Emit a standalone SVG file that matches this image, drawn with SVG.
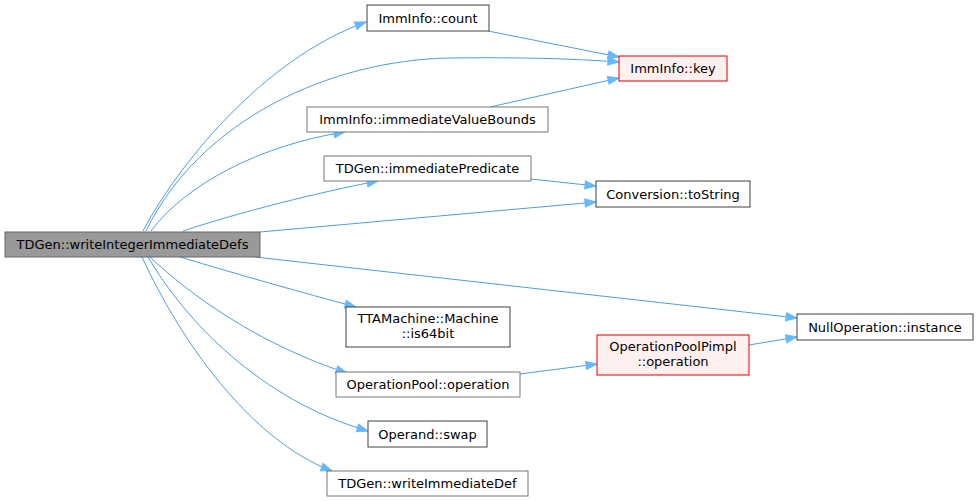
<svg xmlns="http://www.w3.org/2000/svg" width="979" height="501" viewBox="0 0 979 501">
<style>
  .n rect{fill:#ffffff;stroke:#404040;stroke-width:1}
  .n.g rect{stroke:#777777}
  .n.r rect{fill:#fff0f0;stroke:#dd0000}
  .n.m rect{fill:#999999;stroke:#666666}
  text{font-family:"DejaVu Sans",sans-serif;font-size:13px;fill:#000;text-anchor:middle}
  .e path{fill:none;stroke:#4f9de2;stroke-width:1;marker-end:url(#ah)}
</style>
<defs>
  <marker id="ah" markerUnits="userSpaceOnUse" markerWidth="14" markerHeight="10" viewBox="-1 -5 13 10" refX="11" refY="0" orient="auto">
    <path d="M0,-4 L11,0 L0,4 z" fill="#63b8ff" stroke="#63b8ff" stroke-width="1"/>
  </marker>
</defs>
<rect width="979" height="501" fill="#ffffff"/>
<g id="edges" class="e">
  <path d="M143,231 C175,170 260,60 366,22"/>
  <path d="M146,231 C200,120 330,60 450,58 C520,57 580,59 619,62"/>
  <path d="M151,231 C185,185 260,145 345,132"/>
  <path d="M183,231 C240,212 320,192 378,181"/>
  <path d="M260,232 L596,202"/>
  <path d="M255,257 L797,318"/>
  <path d="M180,257 C240,275 300,292 356,307"/>
  <path d="M150,257 C190,295 260,345 347,373"/>
  <path d="M148,257 C185,320 260,400 368,431"/>
  <path d="M142,257 C180,340 250,440 332,471"/>
  <path d="M488,31 L619,57"/>
  <path d="M490,107 L619,78"/>
  <path d="M531,179 L596,186"/>
  <path d="M520,374 L597,364"/>
  <path d="M749,345 L797,337"/>
</g>
<g id="n_main" class="n m"><rect x="5" y="232" width="255" height="25"/><text x="132.5" y="249">TDGen::writeIntegerImmediateDefs</text></g>
<g id="n_count" class="n"><rect x="367" y="5" width="122" height="26"/><text x="428" y="22.5">ImmInfo::count</text></g>
<g id="n_key" class="n r"><rect x="619" y="56" width="108" height="25"/><text x="673" y="73">ImmInfo::key</text></g>
<g id="n_ivb" class="n g"><rect x="307" y="107" width="241" height="25"/><text x="427.5" y="124">ImmInfo::immediateValueBounds</text></g>
<g id="n_ip" class="n g"><rect x="324" y="156" width="207" height="25"/><text x="427.5" y="173">TDGen::immediatePredicate</text></g>
<g id="n_ts" class="n"><rect x="596" y="181" width="154" height="26"/><text x="673" y="198.5">Conversion::toString</text></g>
<g id="n_64" class="n"><rect x="346" y="307" width="164" height="40"/><text x="428" y="323">TTAMachine::Machine</text><text x="428" y="338">::is64bit</text></g>
<g id="n_op" class="n g"><rect x="336" y="372" width="184" height="25"/><text x="428" y="389">OperationPool::operation</text></g>
<g id="n_opp" class="n r"><rect x="597" y="335" width="152" height="40"/><text x="673" y="351">OperationPoolPimpl</text><text x="673" y="366">::operation</text></g>
<g id="n_null" class="n"><rect x="797" y="314" width="176" height="26"/><text x="885" y="331.5">NullOperation::instance</text></g>
<g id="n_swap" class="n"><rect x="368" y="421" width="119" height="26"/><text x="427.5" y="438.5">Operand::swap</text></g>
<g id="n_wid" class="n g"><rect x="327" y="471" width="201" height="25"/><text x="427.5" y="488">TDGen::writeImmediateDef</text></g>
</svg>
